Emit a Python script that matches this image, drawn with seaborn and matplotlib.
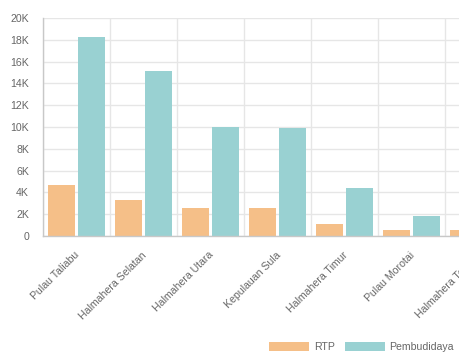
import pandas as pd
import numpy as np
import seaborn as sns
import matplotlib.pyplot as plt
import matplotlib.transforms as mtransforms
from matplotlib.ticker import FuncFormatter, FixedLocator

kabupaten = ['Pulau Taliabu', 'Halmahera Selatan', 'Halmahera Utara', 'Kepulauan Sula',
             'Halmahera Timur', 'Pulau Morotai', 'Halmahera Tengah']
rtp = [4650, 3270, 2540, 2540, 1100, 550, 550]
pembudidaya = [18250, 15130, 10000, 9940, 4370, 1830, 1500]

df = pd.DataFrame({
    'Kabupaten': kabupaten * 2,
    'Jumlah': rtp + pembudidaya,
    'Kategori': ['RTP'] * len(rtp) + ['Pembudidaya'] * len(pembudidaya),
})

sns.set_style('white')
plt.rcParams['font.family'] = ['Liberation Sans', 'DejaVu Sans']
fs = 7.6
teks = '#666666'

fig = plt.figure(figsize=(4.59, 3.6), dpi=100)
ax = fig.add_axes([43 / 459, 124 / 360, 469 / 459, 218 / 360])

sns.barplot(data=df, x='Kabupaten', y='Jumlah', hue='Kategori', ax=ax,
            palette=['#F5BF88', '#99D1D2'], width=0.9, gap=0.1,
            saturation=1, linewidth=0, errorbar=None)

handles, labels = ax.get_legend_handles_labels()
ax.get_legend().remove()

ax.set_xlim(-0.5, len(kabupaten) - 0.5)
ax.set_ylim(0, 20000)
ax.set_yticks(np.arange(0, 20001, 2000))
ax.yaxis.set_major_formatter(FuncFormatter(lambda v, p: '0' if v == 0 else f'{v / 1000:.0f}K'))
ax.set_xlabel('')
ax.set_ylabel('')

ax.xaxis.set_minor_locator(FixedLocator(np.arange(-0.5, len(kabupaten), 1)))
ax.grid(True, axis='y', which='major', color='#e6e6e6', linewidth=1)
ax.grid(True, axis='x', which='minor', color='#e6e6e6', linewidth=1)
ax.set_axisbelow(True)

ax.tick_params(axis='x', which='major', length=0, pad=10)
ax.tick_params(axis='x', which='minor', length=6, color='#e0e0e0', width=1)
ax.tick_params(axis='y', length=7, color='#e6e6e6', width=1, labelsize=fs, labelcolor=teks, pad=3)
geser = mtransforms.ScaledTranslation(-2 / 100, 0, fig.dpi_scale_trans)
for t in ax.get_xticklabels():
    t.set_rotation(45)
    t.set_ha('right')
    t.set_rotation_mode('anchor')
    t.set_fontsize(fs)
    t.set_color(teks)
    t.set_transform(t.get_transform() + geser)

for s in ['top', 'right']:
    ax.spines[s].set_visible(False)
for s in ['left', 'bottom']:
    ax.spines[s].set_color('#c8c8c8')
    ax.spines[s].set_linewidth(1)

fig.legend(handles, labels, loc='center right', bbox_to_anchor=(454 / 459, 13 / 360),
           ncol=2, frameon=False, fontsize=fs, labelcolor=teks,
           handlelength=3.8, handleheight=0.95, handletextpad=0.45,
           columnspacing=0.95, borderpad=0, borderaxespad=0)

fig.savefig('out.png', dpi=100)
